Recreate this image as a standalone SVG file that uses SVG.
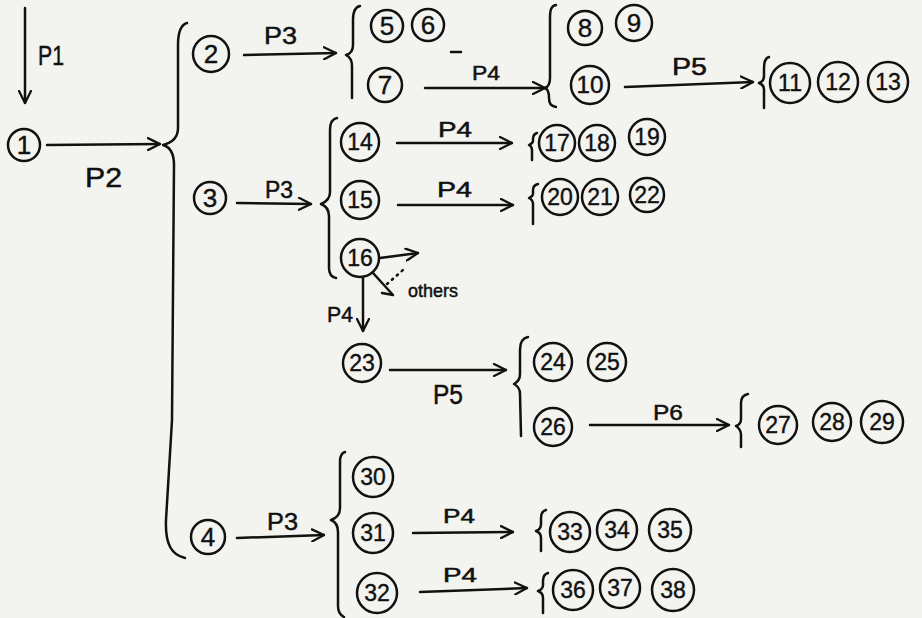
<svg xmlns="http://www.w3.org/2000/svg" width="922" height="618" viewBox="0 0 922 618">
<style>
.n circle{fill:none;stroke:#111;stroke-width:2.5}
.n text{font-family:"Liberation Sans",Arial,sans-serif;font-size:23px;text-anchor:middle;dominant-baseline:central;fill:#111;stroke:#111;stroke-width:0.4}
.n.s text{font-size:26px}
.c path,.c line{fill:none;stroke:#111;stroke-width:2.5;stroke-linecap:round;stroke-linejoin:round}
.c .a{marker-end:url(#ah)}
.lbl{font-family:"Liberation Sans",Arial,sans-serif;fill:#111;stroke:#111;stroke-width:0.5}
</style>
<defs>
<marker id="ah" viewBox="0 0 14 14" refX="13" refY="7" markerWidth="14" markerHeight="14" markerUnits="userSpaceOnUse" orient="auto">
<path d="M1,1 L13,7 L1,13" fill="none" stroke="#111" stroke-width="2.3" stroke-linecap="round" stroke-linejoin="round"/>
</marker>
</defs>
<rect width="922" height="618" fill="#f3f3ef"/>

<g id="connectors" class="c">
<path class="a" d="M25,8 L25,103"/>
<path class="a" d="M47,145 L160,144"/>
<path class="a" d="M244,55 L336,53"/>
<path class="a" d="M425,88 L545,88"/>
<path class="a" d="M625,87 L753,82"/>
<path class="a" d="M237,203 L311,204"/>
<path class="a" d="M397,143 L512,143"/>
<path class="a" d="M398,205 L513,205"/>
<path class="a" d="M380,258 L418,253"/>
<path d="M373,273 L393,295 L382,293"/>
<path d="M387,284 L403,270" stroke-dasharray="1.5 5"/>
<path class="a" d="M363,278 L363,331"/>
<path class="a" d="M390,370 L506,370"/>
<path class="a" d="M590,425 L729,425"/>
<path class="a" d="M237,538 L324,535"/>
<path class="a" d="M413,533 L513,532"/>
<path class="a" d="M420,592 L527,588"/>
<line x1="451" y1="52" x2="461" y2="52"/>
<path d="M187,23 C180,25 178,33 178,45 L178,128 C178,139 171,143 163,145 C170,147 174,153 174,165 L172,420 L166,520 C165,545 172,555 185,558"/>
<path d="M360,6 C355,7 353,12 353,20 L353,45 C353,51 350,54 346,55 C350,57 352,60 352,66 L352,98"/>
<path d="M556,5 C551,6 550,10 550,18 L550,78 C550,84 548,87 545,88 C548,89 549,92 549,98 C549,104 551,106 556,107"/>
<path d="M769,57 C765,58 764,62 764,68 L764,76 C764,80 762,82 759,83 C762,84 764,86 764,90 L764,108"/>
<path d="M337,118 C332,119 330,123 330,130 L330,192 C330,199 326,202 321,204 C326,206 329,209 329,216 L329,268 C329,274 331,277 336,278"/>
<path d="M537,133 C534,134 533,136 533,139 L533,141 C533,143 531,144 529,145 C531,146 532,148 532,150 L532,160"/>
<path d="M538,184 C534,185 533,187 533,190 L533,194 C533,196 531,197 529,198 C531,199 533,201 533,204 L533,224"/>
<path d="M528,337 C522,338 520,343 520,350 L520,374 C520,379 518,382 514,384 C518,386 520,389 520,394 L521,436"/>
<path d="M748,394 C743,395 741,398 741,403 L741,419 C741,423 739,425 736,426 C739,428 741,431 741,435 L741,447"/>
<path d="M345,452 C341,453 340,457 340,462 L340,508 C340,514 337,518 331,520 C336,522 338,526 338,532 L338,606 C338,612 340,615 344,617"/>
<path d="M546,510 C542,511 541,514 541,518 L541,524 C541,528 539,530 536,531 C539,532 541,534 541,538 L541,551"/>
<path d="M548,573 C544,574 543,577 543,581 L543,585 C543,588 541,590 538,591 C541,592 543,594 543,598 L543,613"/>
</g>

<g id="labels">
<text class="lbl" x="38" y="65" font-size="28" textLength="26" lengthAdjust="spacingAndGlyphs">P1</text>
<text class="lbl" x="85" y="187" font-size="28" textLength="37" lengthAdjust="spacingAndGlyphs">P2</text>
<text class="lbl" x="264" y="44" font-size="24" textLength="33" lengthAdjust="spacingAndGlyphs">P3</text>
<text class="lbl" x="472" y="80" font-size="20" textLength="28" lengthAdjust="spacingAndGlyphs">P4</text>
<text class="lbl" x="672" y="75" font-size="23" textLength="35" lengthAdjust="spacingAndGlyphs">P5</text>
<text class="lbl" x="265" y="198" font-size="24" textLength="28" lengthAdjust="spacingAndGlyphs">P3</text>
<text class="lbl" x="438" y="137" font-size="22" textLength="34" lengthAdjust="spacingAndGlyphs">P4</text>
<text class="lbl" x="437" y="197" font-size="22" textLength="35" lengthAdjust="spacingAndGlyphs">P4</text>
<text class="lbl" x="327" y="322" font-size="22" textLength="26" lengthAdjust="spacingAndGlyphs">P4</text>
<text class="lbl" x="433" y="404" font-size="27" textLength="30" lengthAdjust="spacingAndGlyphs">P5</text>
<text class="lbl" x="653" y="420" font-size="22" textLength="30" lengthAdjust="spacingAndGlyphs">P6</text>
<text class="lbl" x="267" y="530" font-size="24" textLength="31" lengthAdjust="spacingAndGlyphs">P3</text>
<text class="lbl" x="443" y="523" font-size="20" textLength="32" lengthAdjust="spacingAndGlyphs">P4</text>
<text class="lbl" x="443" y="582" font-size="20" textLength="34" lengthAdjust="spacingAndGlyphs">P4</text>
<text class="lbl" x="408" y="297" font-size="19" stroke-width="0.3" textLength="50" lengthAdjust="spacingAndGlyphs">others</text>
</g>

<g id="n1" class="n s"><circle cx="24" cy="145" r="16"/><text x="24" y="145">1</text></g>
<g id="n2" class="n s"><circle cx="211" cy="54" r="18"/><text x="211" y="54">2</text></g>
<g id="n3" class="n s"><circle cx="210" cy="198" r="16"/><text x="210" y="198">3</text></g>
<g id="n4" class="n s"><circle cx="208" cy="537" r="17"/><text x="208" y="537">4</text></g>
<g id="n5" class="n s"><circle cx="387" cy="26" r="16"/><text x="387" y="26">5</text></g>
<g id="n6" class="n s"><circle cx="428" cy="25" r="16"/><text x="428" y="25">6</text></g>
<g id="n7" class="n s"><circle cx="385" cy="85" r="17"/><text x="385" y="85">7</text></g>
<g id="n8" class="n s"><circle cx="585" cy="28" r="17"/><text x="585" y="28">8</text></g>
<g id="n9" class="n s"><circle cx="634" cy="23" r="18"/><text x="634" y="23">9</text></g>
<g id="n10" class="n"><circle cx="590" cy="85" r="19"/><text x="590" y="85" textLength="27" lengthAdjust="spacingAndGlyphs">10</text></g>
<g id="n11" class="n"><circle cx="790" cy="83" r="20"/><text x="790" y="83">11</text></g>
<g id="n12" class="n"><circle cx="838" cy="82" r="20"/><text x="838" y="82">12</text></g>
<g id="n13" class="n"><circle cx="888" cy="82" r="20"/><text x="888" y="82">13</text></g>
<g id="n14" class="n"><circle cx="360" cy="142" r="19"/><text x="360" y="142">14</text></g>
<g id="n15" class="n"><circle cx="360" cy="200" r="19"/><text x="360" y="200">15</text></g>
<g id="n16" class="n"><circle cx="360" cy="258" r="19"/><text x="360" y="258">16</text></g>
<g id="n17" class="n"><circle cx="557" cy="143" r="18"/><text x="557" y="143">17</text></g>
<g id="n18" class="n"><circle cx="597" cy="143" r="18"/><text x="597" y="143">18</text></g>
<g id="n19" class="n"><circle cx="647" cy="137" r="18"/><text x="647" y="137">19</text></g>
<g id="n20" class="n"><circle cx="560" cy="197" r="18"/><text x="560" y="197">20</text></g>
<g id="n21" class="n"><circle cx="600" cy="197" r="18"/><text x="600" y="197">21</text></g>
<g id="n22" class="n"><circle cx="647" cy="195" r="17"/><text x="647" y="195">22</text></g>
<g id="n23" class="n"><circle cx="362" cy="363" r="19"/><text x="362" y="363">23</text></g>
<g id="n24" class="n"><circle cx="553" cy="362" r="19"/><text x="553" y="362">24</text></g>
<g id="n25" class="n"><circle cx="607" cy="362" r="19"/><text x="607" y="362">25</text></g>
<g id="n26" class="n"><circle cx="553" cy="427" r="19"/><text x="553" y="427">26</text></g>
<g id="n27" class="n"><circle cx="778" cy="425" r="19"/><text x="778" y="425">27</text></g>
<g id="n28" class="n"><circle cx="832" cy="422" r="19"/><text x="832" y="422">28</text></g>
<g id="n29" class="n"><circle cx="882" cy="422" r="21"/><text x="882" y="422">29</text></g>
<g id="n30" class="n"><circle cx="373" cy="477" r="20"/><text x="373" y="477">30</text></g>
<g id="n31" class="n"><circle cx="373" cy="533" r="20"/><text x="373" y="533">31</text></g>
<g id="n32" class="n"><circle cx="377" cy="593" r="20"/><text x="377" y="593">32</text></g>
<g id="n33" class="n"><circle cx="570" cy="532" r="20"/><text x="570" y="532">33</text></g>
<g id="n34" class="n"><circle cx="617" cy="530" r="20"/><text x="617" y="530">34</text></g>
<g id="n35" class="n"><circle cx="670" cy="530" r="21"/><text x="670" y="530">35</text></g>
<g id="n36" class="n"><circle cx="573" cy="590" r="20"/><text x="573" y="590">36</text></g>
<g id="n37" class="n"><circle cx="620" cy="588" r="20"/><text x="620" y="588">37</text></g>
<g id="n38" class="n"><circle cx="673" cy="590" r="21"/><text x="673" y="590">38</text></g>
</svg>
